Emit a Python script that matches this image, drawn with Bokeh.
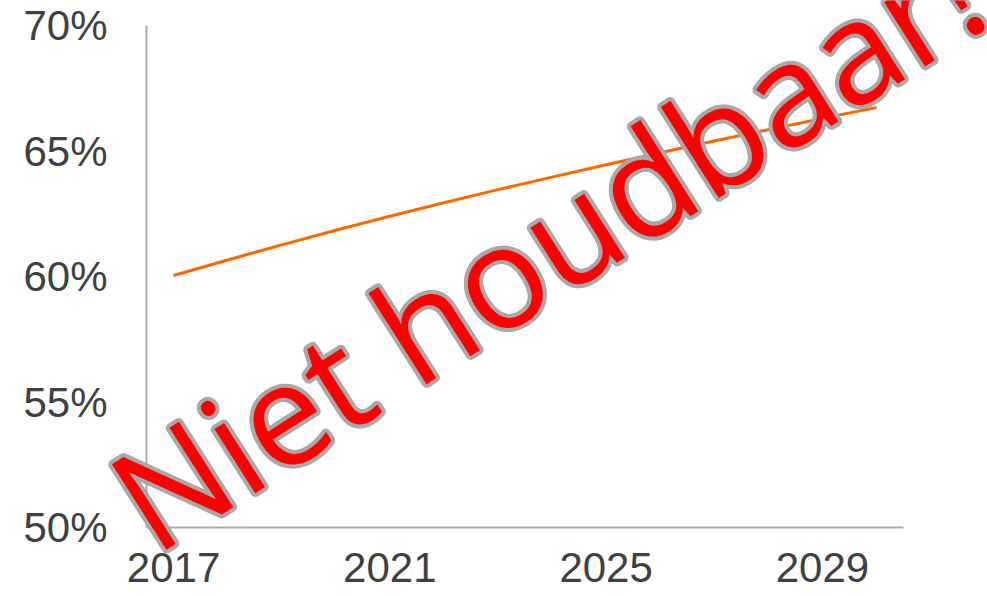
import math
from bokeh.plotting import figure
from bokeh.models import Range1d, FixedTicker, NumeralTickFormatter, Label, ColumnDataSource
from bokeh.embed import file_html
from bokeh.resources import INLINE

years = list(range(2017, 2031))
share = [0.6004, 0.6066, 0.6126, 0.6184, 0.6240, 0.6294, 0.6346,
         0.6396, 0.6445, 0.6493, 0.6540, 0.6585, 0.6630, 0.6673]
x_ticks = [2017, 2021, 2025, 2029]
y_ticks = [0.50, 0.55, 0.60, 0.65, 0.70]
watermark = "Niet houdbaar!"

# canvas size and where the plotting area should sit (pixels)
W, H = 987, 596
LEFT, RIGHT, TOP, BOTTOM = 146, 903, 25, 527

x0, x1 = years[0] - 0.5, years[-1] + 0.5
y0, y1 = y_ticks[0], y_ticks[-1]
sx = (RIGHT - LEFT) / (x1 - x0)
sy = (BOTTOM - TOP) / (y1 - y0)

p = figure(width=W, height=H, output_backend="svg", toolbar_location=None, title=None,
           x_range=Range1d(x0 - LEFT / sx, x1 + (W - RIGHT) / sx),
           y_range=Range1d(y0 - (H - BOTTOM) / sy, y1 + TOP / sy),
           min_border=0)
p.outline_line_color = None
p.background_fill_color = "white"
p.border_fill_color = "white"
p.xgrid.visible = False
p.ygrid.visible = False

src = ColumnDataSource(dict(x=years, y=share))
p.line("x", "y", source=src, line_color="#ff6600", line_width=3)

for ax in (p.xaxis[0], p.yaxis[0]):
    ax.axis_line_color = "#ababab"
    ax.axis_line_width = 2
    ax.major_tick_line_color = None
    ax.minor_tick_line_color = None
    ax.major_tick_out = 0
    ax.major_tick_in = 0
    ax.minor_tick_out = 0
    ax.minor_tick_in = 0
    ax.major_label_text_font = "Liberation Sans"
    ax.major_label_text_font_size = "42px"
    ax.major_label_text_color = "#404040"

xa = p.xaxis[0]
xa.ticker = FixedTicker(ticks=x_ticks)
xa.bounds = (x0, x1)
xa.fixed_location = y0
xa.major_label_standoff = 25

ya = p.yaxis[0]
ya.ticker = FixedTicker(ticks=y_ticks)
ya.formatter = NumeralTickFormatter(format="0%")
ya.bounds = (y0, y1)
ya.fixed_location = x0
ya.major_label_standoff = 39

# Watermark: gray outline drawn as offset copies, red text on top
wx, wy = 2023.88, 0.6133
ang = math.radians(32.5)
for k in range(16):
    t = 2 * math.pi * k / 16
    p.add_layout(Label(x=wx, y=wy, text=watermark, angle=ang,
                       x_offset=4 * math.cos(t), y_offset=4 * math.sin(t),
                       text_font="Open Sans", text_font_size="142px",
                       text_color="#a9a9a9", text_align="center",
                       text_baseline="alphabetic"))
p.add_layout(Label(x=wx, y=wy, text=watermark, angle=ang,
                   text_font="Open Sans", text_font_size="142px",
                   text_color="#ff0000", text_align="center",
                   text_baseline="alphabetic"))

open("out.html", "w").write(file_html(p, INLINE))
